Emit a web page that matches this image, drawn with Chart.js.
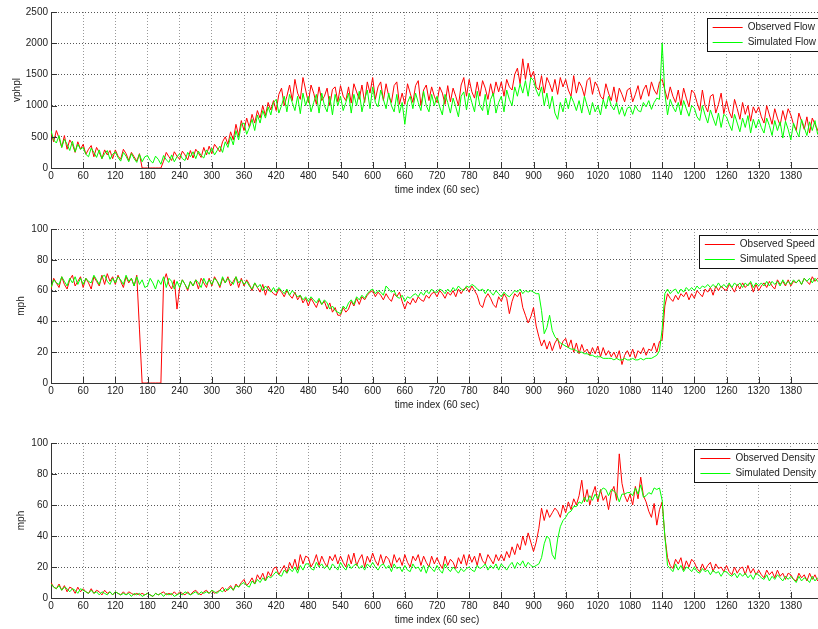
<!DOCTYPE html>
<html>
<head>
<meta charset="utf-8">
<script src="https://cdn.jsdelivr.net/npm/chart.js@4.4.0/dist/chart.umd.min.js"></script>
<style>
  html, body { margin: 0; padding: 0; background: #fff; overflow: hidden; }
  #wrap { position: relative; width: 818px; height: 629px; overflow: hidden; }
  canvas { position: absolute; left: 0; }
</style>
</head>
<body>
<div id="wrap">
  <canvas id="flowChart" width="830" height="196" style="top:0px"></canvas>
  <canvas id="speedChart" width="830" height="211" style="top:200px"></canvas>
  <canvas id="densityChart" width="830" height="211" style="top:415px"></canvas>
</div>
<script>
// one sample every 5 minutes
const timeIndex = Array.from({ length: 288 }, (_, i) => i * 5);

const flowObserved = [
  560, 420, 600, 480, 330, 520, 300, 450, 380, 250, 420, 300,
  380, 220, 300, 360, 180, 330, 250, 150, 290, 210, 280, 150,
  290, 190, 140, 300, 230, 120, 250, 180, 110, 230, 0, 0,
  0, 0, 0, 0, 0, 0, 110, 250, 180, 120, 260, 190,
  140, 270, 210, 130, 280, 160, 300, 240, 170, 330, 210, 350,
  230, 380, 320, 260, 420, 500, 380, 580, 450, 700, 520, 760,
  600, 800, 650, 860, 720, 920, 800, 1000, 840, 1050, 930, 1080,
  920, 1180, 1280, 1000, 1150, 1330, 1080, 1420, 1200, 1100, 1450, 1250,
  1050, 1330, 1200, 1020, 1300, 1080, 1150, 1280, 1000, 1260, 1300, 1060,
  1320, 1150, 1080, 1300, 1040, 1350, 1220, 1100, 1330, 1050, 1380, 1200,
  1450, 1100, 1300, 1380, 1080, 1350, 1150, 1050, 1320, 1380, 1020, 1200,
  1020, 1350, 1200, 1050, 1320, 1400, 1000, 1250, 1330, 1080, 1300, 1150,
  1050, 1300, 1200, 1020, 1320, 1060, 1280, 1150, 1000, 1330, 1450, 1150,
  1420, 1220, 1120, 1380, 1150, 1400, 1280, 1100, 1350, 1150, 1380, 1220,
  1380, 1150, 1420, 1300, 1250, 1500, 1600, 1350, 1750, 1420, 1680, 1450,
  1550, 1300, 1250, 1480, 1200, 1450, 1350, 1220, 1420, 1180, 1450, 1300,
  1420, 1250, 1150, 1480, 1200, 1380, 1300, 1150, 1400, 1450, 1180, 1380,
  1300, 1150, 1100, 1350, 1200, 1080, 1300, 1050, 1280, 1180, 1060, 1250,
  1280, 1060, 1180, 1320, 1100, 1250, 1330, 1150, 1380, 1250, 1180, 1380,
  1420, 1250, 1100, 1300, 1150, 1050, 1250, 1000, 1280, 1120, 980, 1250,
  1200, 1050, 920, 1250, 1000, 900, 1150, 1180, 880, 1020, 1200, 870,
  1080, 900, 800, 1100, 950, 780, 1050, 860, 1000, 750, 980, 880,
  980, 820, 720, 1000, 850, 700, 950, 800, 680, 920, 760, 950,
  850, 700, 600, 880, 750, 620, 820, 560, 800, 700, 600, 780
];

const flowSimulated = [
  600, 450, 400, 520, 330, 460, 380, 280, 430, 260, 380, 300,
  330, 220, 180, 320, 250, 170, 290, 150, 230, 280, 140, 220,
  260, 170, 110, 250, 190, 100, 230, 150, 90, 220, 100, 180,
  200, 120, 80, 190, 140, 60, 200, 130, 90, 210, 100, 180,
  230, 150, 120, 250, 180, 260, 150, 270, 200, 160, 290, 220,
  320, 210, 280, 350, 250, 420, 330, 500, 370, 600, 450, 700,
  720, 540, 650, 780, 600, 850, 720, 920, 800, 980, 850, 1050,
  1100, 880, 1000, 1150, 900, 1180, 1050, 920, 1150, 870, 1200, 1000,
  1150, 900, 1050, 1180, 880, 1200, 1000, 900, 1150, 850, 1180, 1000,
  1150, 920, 1050, 1200, 880, 1180, 1000, 1230, 900, 1100, 1250, 950,
  1300, 1050, 980, 1250, 1100, 950, 1200, 1000, 900, 1180, 880, 1050,
  700, 1050, 1150, 950, 1200, 1050, 920, 1230, 1000, 900, 1180, 1000,
  1150, 980, 850, 1180, 1050, 880, 1120, 980, 820, 1150, 1220, 930,
  1200, 1050, 900, 1230, 1000, 920, 1180, 850, 1100, 1200, 880, 1050,
  1150, 900, 1250, 1100, 1000, 1300, 1150, 1350, 1200, 1400, 1150, 1450,
  1400, 1250, 1150, 1300, 1000, 1200, 950, 1150, 880, 780, 1050, 900,
  1120, 950, 1150, 1050, 920, 1080, 880, 1150, 1000, 850, 1050, 900,
  1000, 850, 1100, 950, 1150, 1000, 930, 1050, 860, 980, 830, 960,
  980, 860, 1000, 920, 900, 1050, 980, 1080, 940, 1050, 1120, 1100,
  2000, 1200, 850, 1100, 980, 900, 1050, 850, 1080, 950, 830, 1000,
  960, 820, 760, 1000, 850, 720, 930, 800, 680, 880, 650, 860,
  820, 700, 600, 860, 720, 580, 800, 650, 840, 560, 780, 640,
  780, 650, 560, 800, 680, 520, 760, 600, 740, 480, 750, 620,
  450, 720, 600, 500, 780, 650, 520, 740, 600, 760, 540, 700
];

const speedObserved = [
  61, 68, 65, 62, 69, 64, 61, 67, 70, 63, 66, 69,
  62, 68, 65, 61, 69, 66, 63, 70, 64, 71, 66, 69,
  64, 70, 66, 62, 69, 65, 68, 63, 70, 35, 0, 0,
  0, 0, 0, 0, 0, 0, 66, 71, 64, 61, 67, 48,
  62, 67, 64, 60, 66, 63, 67, 61, 68, 65, 62, 68,
  63, 69, 66, 62, 68, 65, 69, 63, 66, 69, 62, 68,
  63, 67, 64, 60, 65, 62, 59, 64, 57, 63, 60, 58,
  57, 61, 59, 56, 60, 57, 55, 59, 54, 57, 52, 55,
  50, 55, 52, 49, 54, 51, 53, 48, 52, 46, 49, 44,
  44, 49, 46, 48, 53, 50, 55, 51, 56, 54, 57, 59,
  60, 56, 59, 57, 54, 58, 55, 53, 58, 56, 59, 53,
  48, 53, 51, 55, 52, 56, 54, 53, 57, 55, 58, 59,
  56, 60, 58, 55, 59, 57, 60, 56, 61, 58, 61, 62,
  59, 63, 60, 57, 51, 49, 55, 58, 55, 51, 49, 56,
  53, 58, 55, 45, 53, 58, 56, 59, 49, 44, 39, 43,
  49, 37, 30, 24, 28, 22, 27, 21, 26, 29, 22, 27,
  29, 23, 28, 20, 26, 19, 25, 20, 22, 18, 23, 19,
  24, 17, 23, 18, 21, 17, 20, 16, 21, 12, 18, 21,
  17, 22, 16, 21, 19, 23, 18, 22, 21, 26, 20, 27,
  28, 50, 58, 55, 53, 57, 54, 58, 56, 59, 54, 58,
  55, 60, 58, 56, 61, 59, 62, 57, 63, 60, 63, 61,
  60, 64, 62, 59, 64, 61, 65, 62, 64, 65, 59, 64,
  60, 63, 65, 62, 66, 63, 61, 67, 64, 66, 63, 67,
  63, 66, 65, 67, 64, 68, 66, 64, 69, 66, 68, 69
];

const speedSimulated = [
  62, 67, 65, 64, 69, 66, 63, 68, 65, 69, 64, 68,
  64, 68, 66, 65, 70, 67, 64, 69, 70, 66, 64, 68,
  65, 69, 67, 64, 70, 66, 68, 63, 69, 64, 67, 62,
  63, 68, 65, 61, 67, 64, 69, 62, 68, 66, 61, 66,
  62, 67, 64, 61, 66, 63, 67, 65, 62, 68, 64, 67,
  64, 68, 66, 63, 69, 65, 68, 66, 64, 69, 65, 67,
  64, 66, 63, 61, 65, 62, 64, 60, 63, 61, 59, 62,
  59, 62, 60, 58, 61, 57, 60, 58, 56, 57, 54, 56,
  53, 56, 54, 52, 55, 51, 54, 52, 48, 50, 47, 46,
  45, 50, 48, 52, 54, 51, 56, 54, 57, 55, 58, 60,
  61, 58, 60, 59, 57, 63, 61, 59, 60, 56, 55, 57,
  53, 56, 55, 57, 58, 56, 59, 57, 60, 58, 61, 59,
  59, 61, 60, 58, 61, 59, 62, 60, 63, 61, 60, 63,
  62, 64, 63, 61, 60, 61, 58, 61, 59, 57, 60, 58,
  56, 59, 57, 56, 58, 60, 59, 61, 58, 60, 59, 60,
  59, 58, 58, 47, 32, 36, 44, 34, 30, 28, 26, 25,
  24, 23, 22, 22, 21, 20, 20, 19, 19, 18, 18, 17,
  17, 17, 16, 16, 16, 16, 15, 16, 15, 15, 16, 15,
  15, 16, 15, 15, 16, 15, 16, 16, 16, 17, 18, 21,
  35, 58, 61, 58, 60, 61, 58, 61, 59, 62, 60, 62,
  60, 63, 61, 63, 62, 64, 62, 64, 62, 65, 62, 64,
  62, 65, 62, 65, 63, 65, 62, 65, 63, 66, 62, 65,
  63, 65, 63, 66, 63, 66, 64, 66, 63, 67, 64, 66,
  64, 67, 65, 67, 64, 68, 66, 68, 65, 68, 66, 68
];

const densityObserved = [
  10, 7, 6, 9, 5, 8, 4, 7, 6, 3, 7, 4,
  6, 4, 3, 6, 3, 5, 4, 2, 5, 3, 4, 2,
  4, 3, 2, 4, 2, 4, 3, 2, 3, 2, 3, 2,
  3, 2, 1, 3, 2, 3, 4, 2, 3, 2, 4, 2,
  4, 3, 2, 4, 2, 4, 5, 3, 2, 4, 5, 3,
  5, 3, 4, 5, 7, 4, 6, 8, 5, 9, 7, 10,
  12, 8, 10, 13, 9, 15, 12, 16, 11, 17, 14, 19,
  20, 15, 18, 21, 16, 23, 19, 25, 18, 28, 22, 27,
  26, 20, 23, 28, 21, 27, 23, 20, 27, 24, 28, 22,
  27, 23, 20, 28, 22, 29, 21, 25, 28, 20, 27, 23,
  29, 24, 21, 28, 22, 27, 25, 20, 28, 23, 26, 21,
  28, 23, 20, 27, 24, 28, 21, 27, 23, 20, 27, 22,
  26, 22, 19, 27, 21, 25, 23, 19, 26, 22, 28, 21,
  28, 23, 27, 21, 29, 24, 22, 28, 25, 22, 28, 24,
  28, 24, 30, 26, 33, 28, 35, 31, 40, 34, 42, 36,
  30, 36, 45, 58, 50, 57, 52, 55, 58, 56, 52, 60,
  55, 62, 57, 64, 60, 66, 76, 62, 70, 60, 67, 72,
  62, 70, 63, 66, 57, 68, 72, 63, 93, 74, 66, 62,
  67, 60, 72, 64, 78, 66, 62, 56, 52, 61, 47, 57,
  62, 40, 26, 21, 19, 25, 22, 26, 18, 24, 20, 25,
  23, 19, 17, 22, 18, 21, 23, 17, 22, 19, 20, 17,
  21, 17, 15, 20, 16, 19, 20, 15, 21, 16, 19, 15,
  18, 15, 13, 18, 15, 17, 13, 18, 14, 16, 12, 16,
  15, 12, 11, 16, 13, 15, 11, 16, 12, 15, 11, 14
];

const densitySimulated = [
  9, 7, 6, 8, 5, 7, 6, 4, 6, 5, 3, 6,
  5, 4, 3, 5, 3, 4, 2, 4, 3, 2, 4, 2,
  4, 3, 2, 3, 2, 3, 1, 3, 2, 3, 1, 2,
  3, 2, 1, 3, 2, 3, 1, 3, 2, 3, 1, 2,
  3, 2, 4, 3, 2, 3, 4, 2, 4, 3, 4, 3,
  5, 4, 3, 5, 4, 6, 5, 7, 5, 8, 7, 9,
  10, 8, 7, 11, 9, 12, 10, 13, 11, 14, 13, 15,
  17, 15, 14, 18, 16, 19, 17, 20, 16, 21, 18, 22,
  22, 19, 18, 23, 20, 22, 19, 21, 18, 22, 20, 18,
  23, 20, 18, 22, 19, 21, 22, 19, 21, 18, 22, 20,
  23, 20, 18, 21, 22, 19, 21, 17, 22, 19, 20, 17,
  21, 18, 17, 22, 19, 20, 17, 21, 16, 21, 19, 17,
  21, 18, 16, 22, 19, 17, 20, 18, 16, 19, 17, 19,
  20, 18, 17, 21, 19, 20, 22, 18, 21, 19, 22, 18,
  22, 20, 18, 21, 23, 19, 23, 21, 24, 20, 23, 21,
  20, 21, 22, 26, 35, 40, 38, 28, 25, 38, 46, 50,
  52, 55, 56, 59, 59, 62, 61, 65, 62, 66, 63, 67,
  64, 69, 71, 70, 66, 70, 69, 67, 62, 67, 67, 68,
  68, 66, 71, 67, 73, 65, 66, 68, 67, 71, 70, 71,
  63, 40, 21, 19, 17, 22, 18, 21, 17, 20, 19, 17,
  20, 17, 16, 19, 17, 18, 15, 18, 16, 17, 14, 17,
  17, 15, 14, 16, 13, 16, 14, 16, 13, 15, 12, 16,
  15, 13, 12, 15, 11, 14, 12, 15, 13, 11, 14, 12,
  14, 12, 10, 14, 11, 13, 12, 10, 14, 11, 13, 11
];

const FONT = '"Liberation Sans", Arial, Helvetica, sans-serif';
Chart.defaults.font.family = FONT;
Chart.defaults.font.size = 10;
Chart.defaults.color = '#222';

// MATLAB style ticks pointing into the plot
const inwardTicks = {
    id: 'inwardTicks',
    afterDraw(chart) {
        const { ctx, chartArea: a, scales: { x, y } } = chart;
        ctx.save();
        ctx.strokeStyle = '#333';
        ctx.lineWidth = 1;
        ctx.beginPath();
        x.ticks.forEach(t => {
            const px = Math.round(x.getPixelForValue(t.value)) + 0.5;
            ctx.moveTo(px, a.bottom);
            ctx.lineTo(px, a.bottom - 6);
        });
        y.ticks.forEach(t => {
            const py = Math.round(y.getPixelForValue(t.value)) + 0.5;
            ctx.moveTo(a.left, py);
            ctx.lineTo(a.left + 6, py);
        });
        ctx.stroke();
        ctx.restore();
    }
};

// boxed legend in the top right corner
const boxLegend = {
    id: 'boxLegend',
    afterDraw(chart) {
        const { ctx, chartArea: a } = chart;
        const items = chart.data.datasets;
        ctx.save();
        ctx.font = '10px ' + FONT;
        const tw = Math.max(...items.map(d => ctx.measureText(d.label).width));
        const right = a.right - 2;
        const textX = right - 5 - tw;
        const lineEnd = textX - 5;
        const lineStart = lineEnd - 30;
        const left = lineStart - 6;
        const top = a.top + 6;
        ctx.fillStyle = '#fff';
        ctx.fillRect(left, top, right - left, 33.5);
        ctx.strokeStyle = '#111';
        ctx.lineWidth = 1;
        ctx.strokeRect(Math.round(left) + 0.5, Math.round(top) + 0.5, Math.round(right - left), 33);
        items.forEach((d, i) => {
            const yy = top + 9 + i * 14.5;
            ctx.strokeStyle = d.borderColor;
            ctx.beginPath();
            ctx.moveTo(lineStart, Math.round(yy) + 0.5);
            ctx.lineTo(lineEnd, Math.round(yy) + 0.5);
            ctx.stroke();
            ctx.fillStyle = '#222';
            ctx.textBaseline = 'middle';
            ctx.fillText(d.label, textX, yy + 0.5);
        });
        ctx.restore();
    }
};

function makeChart(id, cfg) {
    const canvas = document.getElementById(id);
    const toPoints = arr => timeIndex.map((t, i) => ({ x: t, y: arr[i] }));
    return new Chart(canvas.getContext('2d'), {
        type: 'line',
        data: {
            datasets: [{
                label: cfg.obsLabel,
                data: toPoints(cfg.observed),
                borderColor: '#ff0000',
                borderWidth: 1,
                pointRadius: 0,
                order: 2
            }, {
                label: cfg.simLabel,
                data: toPoints(cfg.simulated),
                borderColor: '#00ff00',
                borderWidth: 1,
                pointRadius: 0,
                order: 1
            }]
        },
        options: {
            responsive: false,
            animation: false,
            parsing: false,
            layout: { autoPadding: false, padding: { top: cfg.padTop, right: 7, left: 0, bottom: 0 } },
            plugins: { legend: { display: false }, tooltip: { enabled: false } },
            scales: {
                x: {
                    type: 'linear',
                    min: 0,
                    max: 1440,
                    afterFit: s => { s.height = 28; },
                    ticks: { stepSize: 60, autoSkip: false, maxRotation: 0, padding: 2,
                             callback: v => (v > 1380 ? '' : String(v)) },
                    grid: { color: '#999', drawTicks: false },
                    border: { color: '#333', dash: [1, 2] },
                    title: { display: true, text: 'time index (60 sec)', padding: 0 }
                },
                y: {
                    min: 0,
                    max: cfg.yMax,
                    afterFit: s => { s.width = 51; },
                    ticks: { stepSize: cfg.yStep, padding: 3, callback: v => String(v) },
                    grid: { color: '#555', drawTicks: false },
                    border: { color: '#333', dash: [1, 2] },
                    title: { display: true, text: cfg.yTitle, padding: { top: cfg.yTitlePad, bottom: 0 } }
                }
            }
        },
        plugins: [inwardTicks, boxLegend]
    });
}

makeChart('flowChart', {
    observed: flowObserved, simulated: flowSimulated,
    obsLabel: 'Observed Flow', simLabel: 'Simulated Flow',
    yMax: 2500, yStep: 500, yTitle: 'vphpl', yTitlePad: 11, padTop: 12
});
makeChart('speedChart', {
    observed: speedObserved, simulated: speedSimulated,
    obsLabel: 'Observed Speed', simLabel: 'Simulated Speed',
    yMax: 100, yStep: 20, yTitle: 'mph', yTitlePad: 15, padTop: 29
});
makeChart('densityChart', {
    observed: densityObserved, simulated: densitySimulated,
    obsLabel: 'Observed Density', simLabel: 'Simulated Density',
    yMax: 100, yStep: 20, yTitle: 'mph', yTitlePad: 15, padTop: 28
});
</script>
</body>
</html>
